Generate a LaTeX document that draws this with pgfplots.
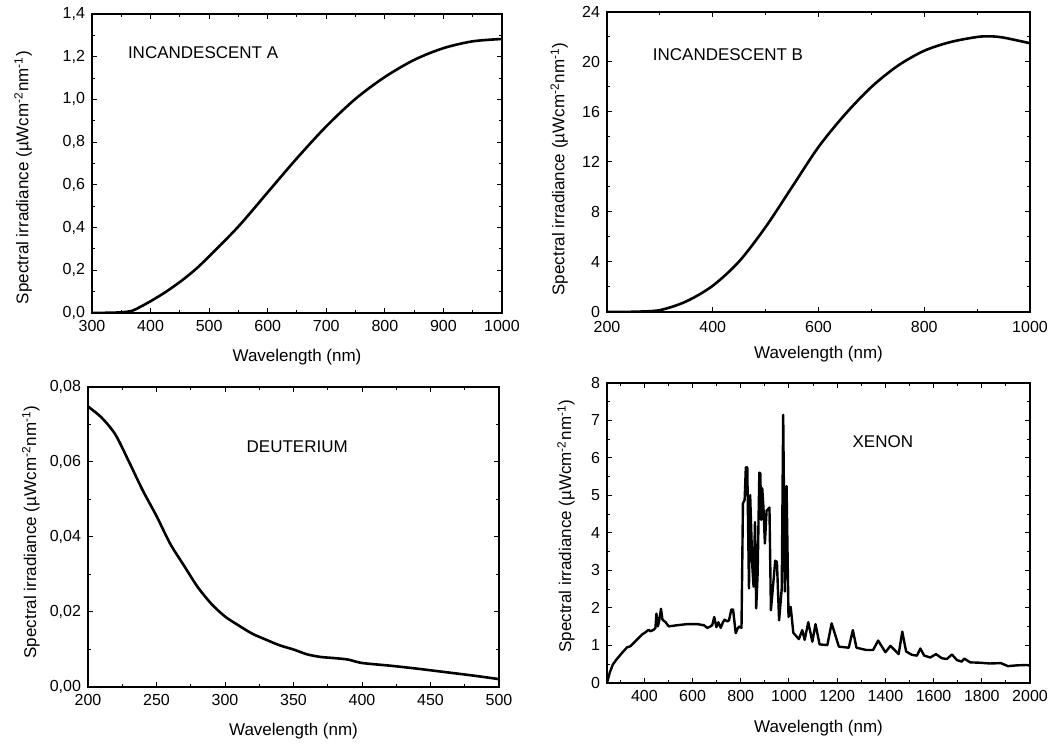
\documentclass[border=0pt]{standalone}
\usepackage{fontspec}
\setmainfont{Liberation Sans}
\usepackage{pgfplots}
\pgfplotsset{compat=1.18}

\pgfplotstableread{
x y
300 0.000
325 0.001
350 0.003
365 0.008
375 0.018
400 0.055
425 0.097
450 0.145
475 0.200
500 0.265
550 0.405
600 0.565
650 0.725
700 0.874
750 1.003
800 1.105
850 1.185
900 1.240
950 1.272
1000 1.283
}\incA

\pgfplotstableread{
x y
200 0.00
250 0.02
300 0.15
350 0.85
400 2.10
450 4.05
500 6.80
550 10.00
600 13.20
650 15.80
700 18.00
750 19.70
800 20.90
850 21.60
900 22.00
925 22.05
950 21.95
1000 21.50
}\incB

\pgfplotstableread{
x y
200 0.0748
210 0.0718
220 0.0673
230 0.0600
240 0.0524
250 0.0456
260 0.0382
270 0.0324
280 0.0267
290 0.0222
300 0.0188
310 0.0164
320 0.0142
330 0.0126
340 0.0111
350 0.0100
360 0.0087
370 0.0080
380 0.0077
390 0.0073
400 0.0064
420 0.0057
440 0.0049
460 0.0040
480 0.0031
500 0.0021
}\deut

\pgfplotstableread{
x y
245 0.00
256 0.27
269 0.49
286 0.64
307 0.80
328 0.95
342 0.98
356 1.07
376 1.20
390 1.29
404 1.35
418 1.42
425 1.38
439 1.42
446 1.47
450 1.85
456 1.51
461 1.64
469 1.98
475 1.69
488 1.62
501 1.51
536 1.54
578 1.57
619 1.57
647 1.54
661 1.47
675 1.51
682 1.55
690 1.76
699 1.49
707 1.62
717 1.47
726 1.62
733 1.69
744 1.64
751 1.67
761 1.96
768 1.96
779 1.33
786 1.44
794 1.51
803 1.47
809 4.79
816 4.88
821 5.75
827 5.75
834 2.52
839 5.01
848 3.10
853 2.57
859 4.29
864 1.99
870 2.92
877 5.61
881 5.59
885 4.35
889 5.19
894 4.70
900 3.72
907 4.59
919 4.68
925 1.94
943 3.26
950 3.23
959 1.67
970 2.52
976 7.15
983 2.44
990 5.25
998 1.76
1007 2.03
1018 1.34
1041 1.17
1055 1.41
1065 1.15
1080 1.62
1097 1.10
1110 1.57
1127 1.03
1159 1.01
1177 1.59
1207 0.97
1248 0.94
1265 1.41
1280 0.94
1321 0.88
1349 0.88
1370 1.13
1400 0.82
1421 0.99
1455 0.77
1470 1.37
1486 0.84
1510 0.75
1531 0.73
1545 0.92
1561 0.73
1586 0.68
1610 0.77
1634 0.66
1655 0.64
1676 0.76
1697 0.61
1717 0.57
1727 0.65
1752 0.55
1793 0.54
1834 0.52
1879 0.53
1908 0.45
1945 0.47
1986 0.48
2000 0.46
}\xenon

\pgfplotsset{
  myaxis/.style={
    scale only axis,
    axis line style={line width=0.6pt},
    tick align=inside,
    major tick length=2.6pt,
    minor tick length=1.5pt,
    minor tick num=1,
    tick style={line width=0.5pt, black},
    ticklabel style={font=\fontsize{8}{9.6}\selectfont},
    yticklabel style={inner ysep=0.5pt},
    label style={font=\fontsize{8.5}{10}\selectfont},
    /pgf/number format/assume math mode=true,
    /pgf/number format/1000 sep={},
    scaled ticks=false,
    xlabel={Wavelength (nm)},
    ylabel={Spectral irradiance (µWcm\textsuperscript{-2}nm\textsuperscript{-1})},
    every axis plot/.append style={black, line width=1.3pt},
  }
}

\begin{document}
\begin{tikzpicture}
\useasboundingbox (0,0) rectangle (527pt,373.5pt);

% Incandescent A
\begin{axis}[myaxis,
  at={(46pt,217pt)}, anchor=south west,
  width=205pt, height=149.5pt,
  xmin=300, xmax=1000, ymin=0, ymax=1.4,
  xtick={300,400,...,1000},
  ytick={0,0.2,...,1.4},
  yticklabel style={/pgf/number format/.cd, fixed, fixed zerofill, precision=1, use comma},
  xlabel style={at={(axis description cs:0.5,-0.147)}, anchor=center},
  ylabel style={at={(axis description cs:-0.168,0.453)}, anchor=center},
]
\addplot[smooth] table {\incA};
\node[font=\fontsize{8.5}{10}\selectfont] at (axis description cs:0.271,0.87) {INCANDESCENT A};
\end{axis}

% Incandescent B
\begin{axis}[myaxis,
  at={(303.5pt,217.5pt)}, anchor=south west,
  width=211.5pt, height=150pt,
  xmin=200, xmax=1000, ymin=0, ymax=24,
  xtick={200,400,...,1000},
  ytick={0,4,...,24},
  xticklabel style={yshift=-1.2pt},
  xlabel style={at={(axis description cs:0.5,-0.14)}, anchor=center},
  ylabel style={at={(axis description cs:-0.113,0.477)}, anchor=center},
]
\addplot[smooth] table {\incB};
\node[font=\fontsize{8.5}{10}\selectfont] at (axis description cs:0.286,0.857) {INCANDESCENT B};
\end{axis}

% Deuterium
\begin{axis}[myaxis,
  at={(44pt,30pt)}, anchor=south west,
  width=205.5pt, height=150pt,
  xmin=200, xmax=500, ymin=0, ymax=0.08,
  xtick={200,250,...,500},
  ytick={0,0.02,0.04,0.06,0.08},
  yticklabel style={/pgf/number format/.cd, fixed, fixed zerofill, precision=2, use comma},
  xlabel style={at={(axis description cs:0.5,-0.147)}, anchor=center},
  ylabel style={at={(axis description cs:-0.139,0.517)}, anchor=center},
]
\addplot[smooth] table {\deut};
\node[font=\fontsize{8.5}{10}\selectfont] at (axis description cs:0.509,0.8) {DEUTERIUM};
\end{axis}

% Xenon
\begin{axis}[myaxis,
  at={(303.5pt,32pt)}, anchor=south west,
  width=211.5pt, height=150pt,
  xmin=245, xmax=2000, ymin=0, ymax=8,
  xtick={400,600,...,2000},
  minor xtick={300,500,...,1900},
  ytick={0,1,...,8},
  xlabel style={at={(axis description cs:0.5,-0.15)}, anchor=center},
  ylabel style={at={(axis description cs:-0.097,0.523)}, anchor=center},
]
\addplot[line join=round, line width=1.2pt] table {\xenon};
\node[font=\fontsize{8.5}{10}\selectfont] at (axis description cs:0.652,0.803) {XENON};
\end{axis}
\end{tikzpicture}
\end{document}
